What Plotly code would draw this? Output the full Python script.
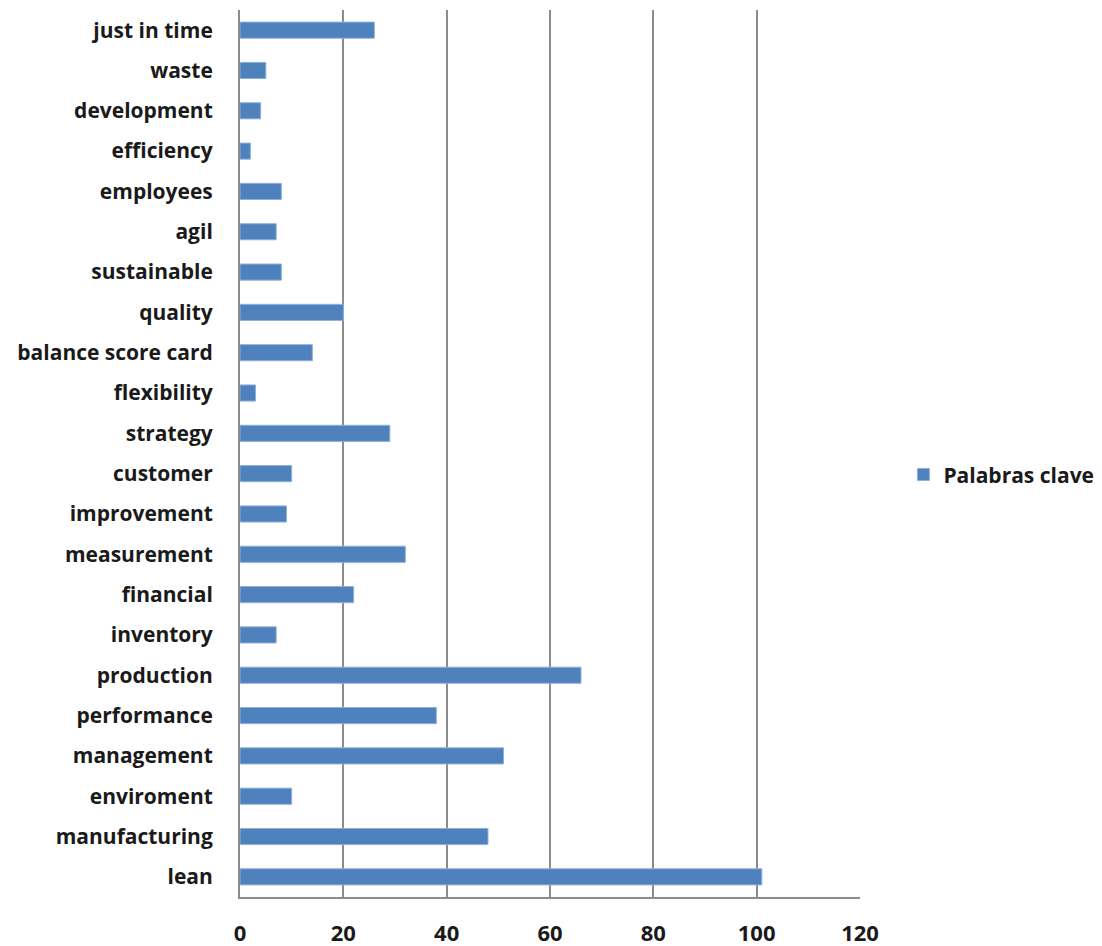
import plotly.graph_objects as go

# Keyword frequencies (bottom to top on the chart)
categories = [
    "lean", "manufacturing", "enviroment", "management", "performance",
    "production", "inventory", "financial", "measurement", "improvement",
    "customer", "strategy", "flexibility", "balance score card", "quality",
    "sustainable", "agil", "employees", "efficiency", "development",
    "waste", "just in time",
]
values = [101, 48, 10, 51, 38, 66, 7, 22, 32, 9, 10, 29, 3, 14, 20, 8, 7, 8, 2, 4, 5, 26]
series_name = "Palabras clave"
x_ticks = [0, 20, 40, 60, 80, 100, 120]

BAR = "#4F81BD"
GRID = "#8C8C8C"
FONT = "Open Sans"
TXT = "#1a1a1a"
SIZE = 22

fig = go.Figure(
    go.Bar(
        x=values,
        y=categories,
        orientation="h",
        name=series_name,
        marker=dict(color=BAR, line=dict(color="#8FB0DA", width=1)),
        showlegend=True,
    )
)

fig.update_layout(
    width=1102,
    height=946,
    margin=dict(l=240, r=242, t=10, b=49, autoexpand=False),
    paper_bgcolor="white",
    plot_bgcolor="white",
    bargap=0.6,
    font=dict(family=FONT, size=SIZE, color=TXT),
    legend=dict(
        x=1.07,
        y=0.476,
        xanchor="left",
        yanchor="middle",
        font=dict(family=FONT, size=SIZE - 1, color=TXT, weight="bold"),
        itemwidth=30,
        bgcolor="rgba(0,0,0,0)",
    ),
    xaxis=dict(
        range=[0, 120],
        tickvals=x_ticks,
        ticktext=[str(v) for v in x_ticks],
        showgrid=True,
        gridcolor=GRID,
        gridwidth=2,
        zeroline=False,
        showline=True,
        linecolor=GRID,
        linewidth=2,
        ticks="",
        automargin=False,
        ticklabelstandoff=16,
        tickfont=dict(family=FONT, size=SIZE, color=TXT, weight="bold"),
    ),
    yaxis=dict(
        categoryorder="array",
        categoryarray=categories,
        showgrid=False,
        zeroline=False,
        showline=True,
        linecolor=GRID,
        linewidth=2,
        ticks="",
        automargin=False,
        ticklabelstandoff=21,
        tickfont=dict(family=FONT, size=SIZE - 1, color=TXT, weight="bold"),
    ),
)

fig.write_html("out.html")
